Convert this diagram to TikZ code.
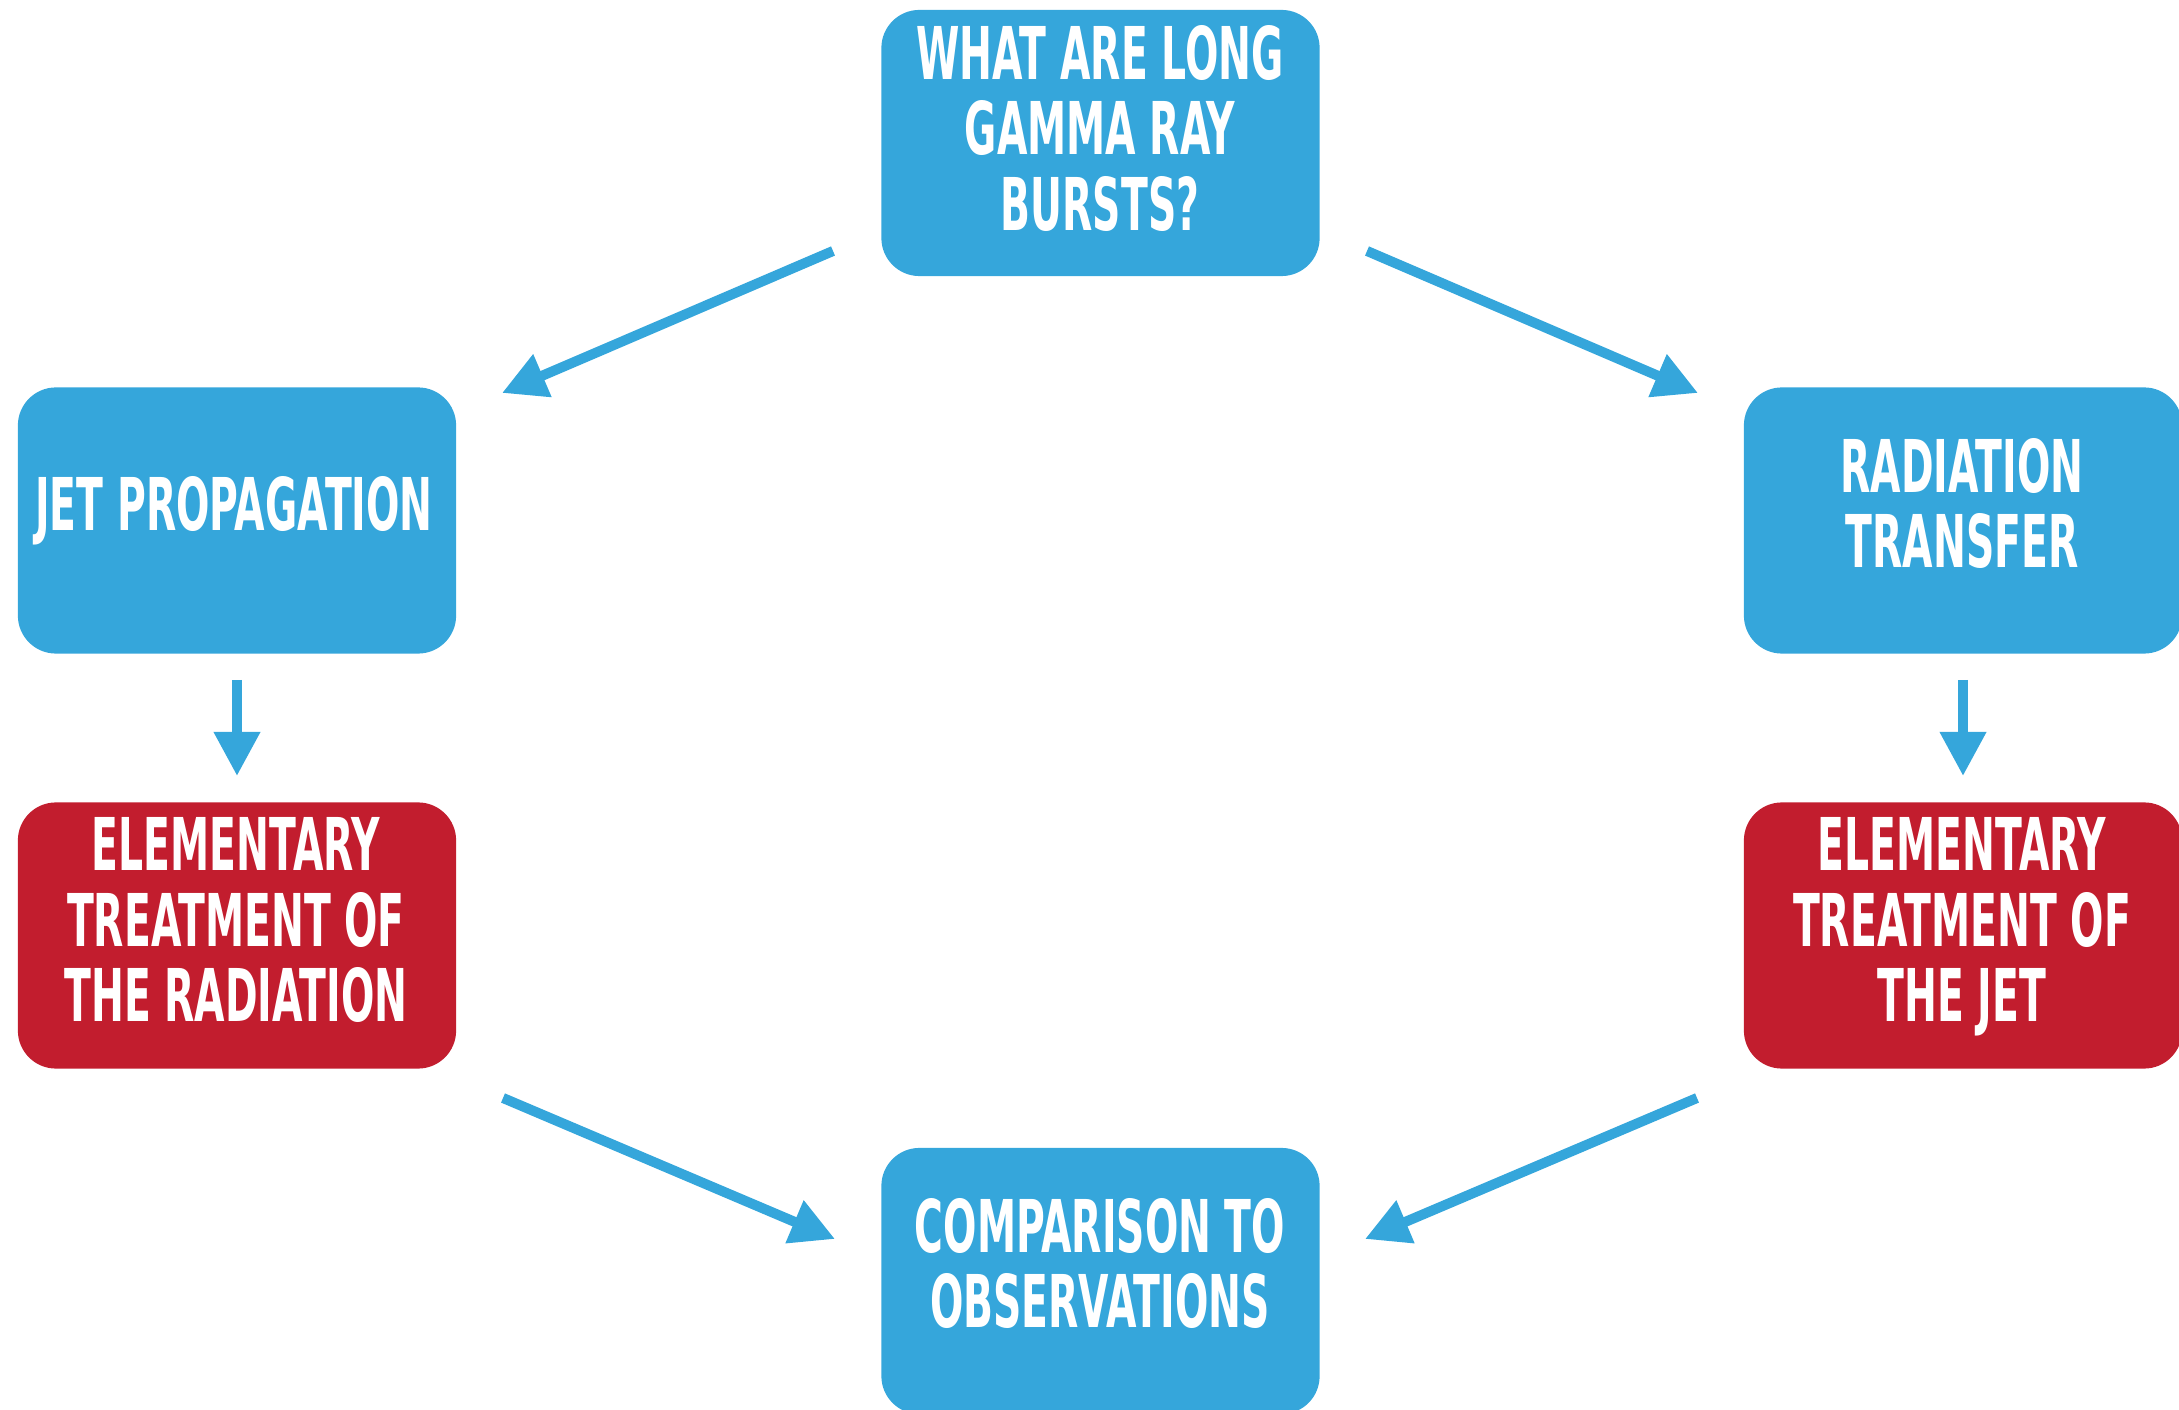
\documentclass[tikz,border=0pt]{standalone}
\usepackage{fontspec}
\usetikzlibrary{arrows.meta}
\newfontfamily\dinfont{DejaVu Sans Bold}[FakeStretch=0.54]
\definecolor{boxblue}{RGB}{53,166,219}
\definecolor{boxred}{RGB}{194,29,46}
\tikzset{
  boxshape/.style={rounded corners=0.38cm, minimum width=4.38cm, minimum height=2.66cm, inner sep=0pt, draw=none},
  bluebox/.style={boxshape, fill=boxblue},
  redbox/.style={boxshape, fill=boxred},
  lbl/.style={text=white, align=center, inner sep=0pt, anchor=north,
    font=\dinfont\fontsize{20.7pt}{21.4pt}\selectfont},
  conn/.style={draw=boxblue, line width=0.1cm, -{Triangle[length=0.44cm, width=0.44cm]}}
}
\begin{document}
\begin{tikzpicture}[x=0.01cm, y=-0.01cm]
\useasboundingbox (0,0) rectangle (2179,1410);
\clip (0,0) rectangle (2179,1410);
% boxes
\node[bluebox] (top) at (1100.5,143) {};
\node[bluebox] (jet) at (237,520.5) {};
\node[bluebox] (rad) at (1963,520.5) {};
\node[redbox] (redl) at (237,935.5) {};
\node[redbox] (redr) at (1963,935.5) {};
\node[bluebox] (obs) at (1100.5,1281) {};
% texts
\node[lbl] (topt) at (1100,25) {WHAT ARE LONG\\GAMMA RAY\\BURSTS?};
\node[lbl] (jett) at (234,476) {JET PROPAGATION};
\node[lbl] (radt) at (1962,438) {RADIATION\\TRANSFER};
\node[lbl] (redlt) at (236,817) {ELEMENTARY\\TREATMENT OF\\THE RADIATION};
\node[lbl] (redrt) at (1962,817) {ELEMENTARY\\TREATMENT OF\\THE JET};
\node[lbl] (obst) at (1100,1198) {COMPARISON TO\\OBSERVATIONS};
% connector end points
\coordinate (a1s) at (833,251);  \coordinate (a1e) at (502,393);
\coordinate (a2s) at (1367,251); \coordinate (a2e) at (1698,393);
\coordinate (a3s) at (237,680);  \coordinate (a3e) at (237,776);
\coordinate (a4s) at (1963,680); \coordinate (a4e) at (1963,776);
\coordinate (a5s) at (503,1098); \coordinate (a5e) at (835,1239);
\coordinate (a6s) at (1697,1098);\coordinate (a6e) at (1365,1239);
\draw[conn] (a1s) -- (a1e);
\draw[conn] (a2s) -- (a2e);
\draw[conn] (a3s) -- (a3e);
\draw[conn] (a4s) -- (a4e);
\draw[conn] (a5s) -- (a5e);
\draw[conn] (a6s) -- (a6e);
\end{tikzpicture}
\end{document}
